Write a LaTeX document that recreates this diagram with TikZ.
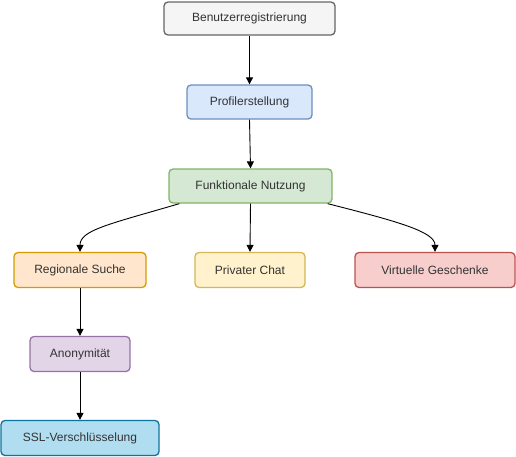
\documentclass[tikz,border=0pt]{standalone}
\usepackage{fontspec}
\setmainfont{Liberation Sans}
\usetikzlibrary{arrows.meta}
\definecolor{gfill}{HTML}{F5F5F5}\definecolor{gdraw}{HTML}{666666}
\definecolor{bfill}{HTML}{DAE8FC}\definecolor{bdraw}{HTML}{6C8EBF}
\definecolor{grfill}{HTML}{D5E8D4}\definecolor{grdraw}{HTML}{82B366}
\definecolor{ofill}{HTML}{FFE6CC}\definecolor{odraw}{HTML}{D79B00}
\definecolor{yfill}{HTML}{FFF2CC}\definecolor{ydraw}{HTML}{D6B656}
\definecolor{rfill}{HTML}{F8CECC}\definecolor{rdraw}{HTML}{B85450}
\definecolor{pfill}{HTML}{E1D5E7}\definecolor{pdraw}{HTML}{9673A6}
\definecolor{sfill}{HTML}{B1DDF0}\definecolor{sdraw}{HTML}{10739E}
\definecolor{txt}{HTML}{333333}
\begin{document}
\begin{tikzpicture}[x=1pt,y=-1pt,
  box/.style={draw, rounded corners=4pt, line width=1.3pt, inner sep=0pt,
    font=\fontsize{12}{14}\selectfont, text=txt, anchor=center},
  conn/.style={-{Triangle[length=7pt,width=7pt]}, line width=0.9pt, draw=black}]
\useasboundingbox (0,0) rectangle (516,456);
\node[box, fill=gfill, draw=gdraw, minimum width=171pt, minimum height=33pt] (reg) at (249.5,18.5) {Benutzerregistrierung};
\node[box, fill=bfill, draw=bdraw, minimum width=125pt, minimum height=34pt] (prof) at (249.5,102) {Profilerstellung};
\node[box, fill=grfill, draw=grdraw, minimum width=163pt, minimum height=34pt] (funk) at (250.5,186) {Funktionale Nutzung};
\node[box, fill=ofill, draw=odraw, minimum width=132pt, minimum height=35pt] (such) at (80,270) {Regionale Suche};
\node[box, fill=yfill, draw=ydraw, minimum width=110pt, minimum height=35pt] (chat) at (250,270) {Privater Chat};
\node[box, fill=rfill, draw=rdraw, minimum width=160pt, minimum height=35pt] (gesch) at (435,270) {Virtuelle Geschenke};
\node[box, fill=pfill, draw=pdraw, minimum width=100pt, minimum height=35pt] (anon) at (80,354) {Anonymität};
\node[box, fill=sfill, draw=sdraw, minimum width=158pt, minimum height=35pt] (ssl) at (80,438) {SSL-Verschlüsselung};
\draw[conn] (reg.south) -- (prof.north);
\draw[conn] (prof.south) -- (funk.north);
\draw[conn] (funk.south) -- (chat.north);
\draw[conn] (funk.south west) ++(11pt,0) .. controls (110,224) and (80,230) .. (such.north);
\draw[conn] (funk.south east) ++(-5pt,0) .. controls (400,222) and (435,232) .. (gesch.north);
\draw[conn] (such.south) -- (anon.north);
\draw[conn] (anon.south) -- (ssl.north);
\end{tikzpicture}
\end{document}
